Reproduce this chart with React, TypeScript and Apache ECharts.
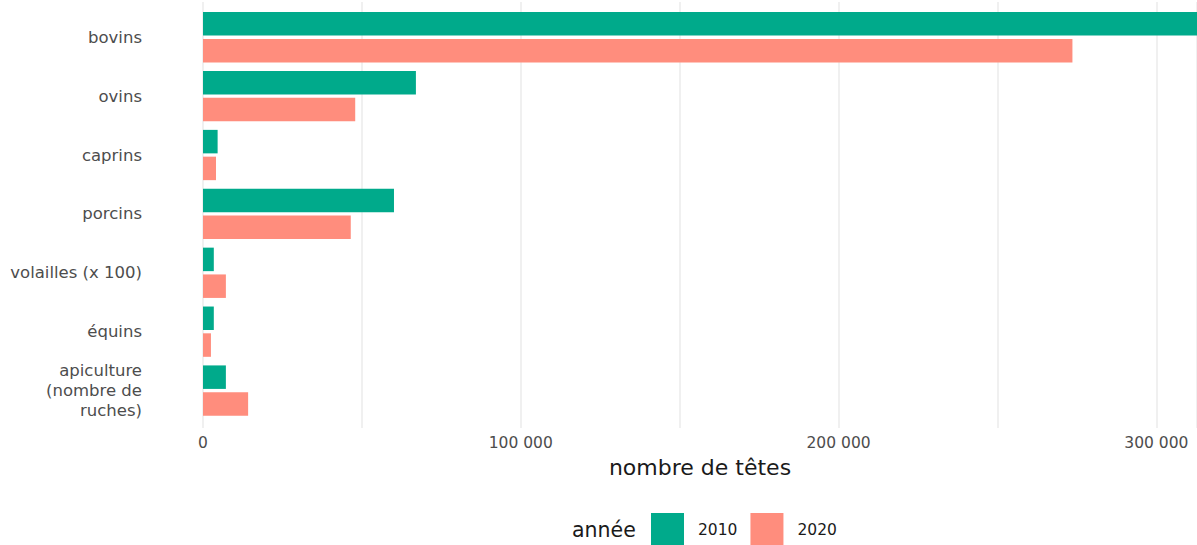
import React, { useEffect, useRef } from "react";
import * as echarts from "echarts";

const categories = [
  "bovins",
  "ovins",
  "caprins",
  "porcins",
  "volailles (x 100)",
  "équins",
  "apiculture\n(nombre de\nruches)",
];
const values2010 = [312800, 67000, 4600, 60100, 3400, 3400, 7200];
const values2020 = [273600, 47900, 4100, 46500, 7200, 2500, 14200];
const xTicks = [0, 100000, 200000, 300000];
const seriesNames = ["2010", "2020"];

const GREEN = "#00AA8B";
const SALMON = "#FF8D7D";
const FONT = "'DejaVu Sans', 'Open Sans', sans-serif";

export default function App() {
  const ref = useRef<HTMLDivElement>(null);
  useEffect(() => {
    if (!ref.current) return;
    const chart = echarts.init(ref.current, null, { renderer: "svg" });
    const fmt = (v: number) =>
      xTicks.includes(v) ? String(v).replace(/\B(?=(\d{3})+(?!\d))/g, " ") : "";
    const xMax = 312800;
    chart.setOption({
      animation: false,
      textStyle: { fontFamily: FONT },
      grid: [
        { left: 203, width: 994, top: 7.8, height: 412.2, containLabel: false },
        { left: 203, width: 994, top: 2, height: 426, containLabel: false },
      ],
      xAxis: [
        {
          gridIndex: 0,
          type: "value",
          min: 0,
          max: xMax,
          axisLabel: { show: false },
          axisLine: { show: false },
          axisTick: { show: false },
          splitLine: { show: false },
        },
        {
          gridIndex: 1,
          type: "value",
          min: 0,
          max: xMax,
          interval: 50000,
          axisLine: { show: false },
          axisTick: { show: false },
          splitLine: { show: true, lineStyle: { color: "#ebebeb", width: 1.5 } },
          axisLabel: {
            formatter: fmt,
            color: "#4d4d4d",
            fontSize: 15.5,
            margin: 7,
            showMaxLabel: false,
            fontFamily: FONT,
          },
          name: "nombre de têtes",
          nameLocation: "middle",
          nameGap: 28,
          nameTextStyle: { color: "#1a1a1a", fontSize: 22, fontFamily: FONT },
        },
      ],
      yAxis: [
        {
          gridIndex: 0,
          type: "category",
          data: categories,
          inverse: true,
          axisLine: { show: false },
          axisTick: { show: false },
          splitLine: { show: false },
          axisLabel: {
            color: "#4d4d4d",
            fontSize: 16.5,
            margin: 61,
            lineHeight: 20,
            align: "right",
            fontFamily: FONT,
          },
        },
        {
          gridIndex: 1,
          type: "value",
          min: 0,
          max: 1,
          show: false,
        },
      ],
      legend: {
        data: seriesNames,
        left: 651,
        top: 513,
        padding: 0,
        itemWidth: 33,
        itemHeight: 34,
        itemGap: 13,
        icon: "rect",
        textStyle: { fontSize: 15.5, color: "#1a1a1a", padding: [0, 0, 0, 9], fontFamily: FONT },
      },
      graphic: [
        {
          type: "text",
          x: 572,
          y: 530,
          style: {
            text: "année",
            fontSize: 20.5,
            fill: "#1a1a1a",
            fontFamily: FONT,
            verticalAlign: "middle",
          },
        },
      ],
      series: [
        {
          name: seriesNames[0],
          type: "bar",
          xAxisIndex: 0,
          yAxisIndex: 0,
          data: values2010,
          barWidth: 23.5,
          barGap: "14%",
          itemStyle: { color: GREEN },
        },
        {
          name: seriesNames[1],
          type: "bar",
          xAxisIndex: 0,
          yAxisIndex: 0,
          data: values2020,
          barWidth: 23.5,
          barGap: "14%",
          itemStyle: { color: SALMON },
        },
      ],
    });
    return () => chart.dispose();
  }, []);
  return <div ref={ref} style={{ width: 1197, height: 545, position: "absolute", left: 0, top: 0 }} />;
}
